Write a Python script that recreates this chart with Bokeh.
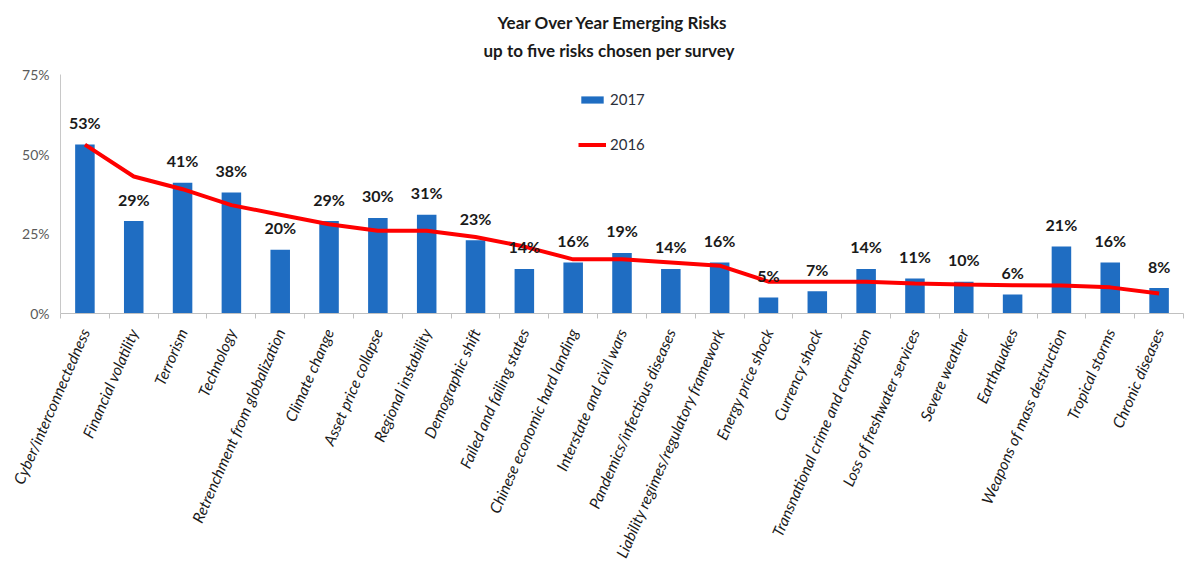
from bokeh.plotting import figure
from bokeh.models import (Range1d, FixedTicker, Title, Legend, LegendItem,
                          ColumnDataSource, LabelSet)
from bokeh.core.properties import value
from bokeh.embed import file_html
from bokeh.resources import INLINE

categories = ["Cyber/interconnectedness", "Financial volatility", "Terrorism", "Technology",
              "Retrenchment from globalization", "Climate change", "Asset price collapse",
              "Regional instability", "Demographic shift", "Failed and failing states",
              "Chinese economic hard landing", "Interstate and civil wars",
              "Pandemics/infectious diseases", "Liability regimes/regulatory framework",
              "Energy price shock", "Currency shock", "Transnational crime and corruption",
              "Loss of freshwater services", "Severe weather", "Earthquakes",
              "Weapons of mass destruction", "Tropical storms", "Chronic diseases"]
risk_2017 = [53, 29, 41, 38, 20, 29, 30, 31, 23, 14, 16, 19, 14, 16, 5, 7, 14, 11, 10, 6, 21, 16, 8]
risk_2016 = [53, 43, 39, 34, 31, 28, 26, 26, 24, 21, 17, 17, 16, 15, 10, 10, 10, 9.4, 9.1, 8.9, 8.8, 8.2, 6.3]
y_ticks = [0, 25, 50, 75]
y_tick_labels = ["0%", "25%", "50%", "75%"]
title_line1 = "Year Over Year Emerging Risks"
title_line2 = "up to five risks chosen per survey"

FONT = "Lato"

n = len(categories)
xs = list(range(1, n + 1))
src = ColumnDataSource(dict(x=xs, cat=categories, v17=risk_2017, v16=risk_2016,
                            lab=[f"{v}%" for v in risk_2017]))

p = figure(width=1186, height=573, output_backend="svg", toolbar_location=None,
           x_range=Range1d(0.5, n + 0.5), y_range=Range1d(0, 75), title=None,
           min_border_left=60, min_border_right=3, min_border_bottom=260, min_border_top=74)
p.outline_line_color = None
p.xgrid.visible = False
p.ygrid.visible = False

spacer = Title(text=" ", text_font=FONT, text_font_size="1px", standoff=11)
t2 = Title(text=title_line2, align="left", offset=423, text_font=FONT, text_font_size="17px",
           text_font_style="bold", text_color="#1a1a1a", standoff=0)
t1 = Title(text=title_line1, align="left", offset=437, text_font=FONT, text_font_size="17px",
           text_font_style="bold", text_color="#1a1a1a", standoff=10)
p.add_layout(spacer, "above")
p.add_layout(t2, "above")
p.add_layout(t1, "above")

bars = p.vbar(x="x", top="v17", width=0.4, source=src, fill_color="#1F6DC2", line_color=None)
line = p.line(x="x", y="v16", source=src, line_color="#FF0000", line_width=4)

legend = Legend(items=[LegendItem(label="2017", renderers=[bars]),
                       LegendItem(label="2016", renderers=[line])],
                location=(518, 160), orientation="vertical", padding=0, spacing=27,
                glyph_width=28, glyph_height=9, label_height=16, label_standoff=4,
                label_text_font=FONT, label_text_font_size="15px", label_text_color="#2b2f3a",
                border_line_color=None, background_fill_alpha=0)
p.add_layout(legend)

vals = LabelSet(x="x", y="v17", text="lab", source=src, y_offset=22, text_align="center",
                text_baseline="middle", text_font=value(FONT), text_font_size="16px",
                text_font_style="bold", text_color="#1a1a1a")
p.add_layout(vals)

p.xaxis.ticker = FixedTicker(ticks=xs, minor_ticks=[i + 0.5 for i in range(0, n + 1)])
p.xaxis.major_label_overrides = dict(zip(xs, categories))
p.xaxis.major_label_orientation = 1.16
p.xaxis.major_label_text_font = FONT
p.xaxis.major_label_text_font_size = "15.5px"
p.xaxis.major_label_text_font_style = "italic"
p.xaxis.major_label_text_color = "#1a1a1a"
p.xaxis.major_label_standoff = 11
p.xaxis.major_tick_line_color = None
p.xaxis.major_tick_out = 0
p.xaxis.minor_tick_in = 0
p.xaxis.minor_tick_out = 5
p.xaxis.minor_tick_line_color = "#c0c0c0"
p.xaxis.axis_line_color = "#c0c0c0"

p.yaxis.ticker = FixedTicker(ticks=y_ticks)
p.yaxis.major_label_overrides = dict(zip(y_ticks, y_tick_labels))
p.yaxis.major_tick_line_color = None
p.yaxis.minor_tick_line_color = None
p.yaxis.axis_line_color = "#c8c8c8"
p.yaxis.major_label_text_font = FONT
p.yaxis.major_label_text_font_size = "14px"
p.yaxis.major_label_text_color = "#5a5a5a"
p.yaxis.major_label_standoff = 5

open("out.html", "w").write(file_html(p, INLINE))
